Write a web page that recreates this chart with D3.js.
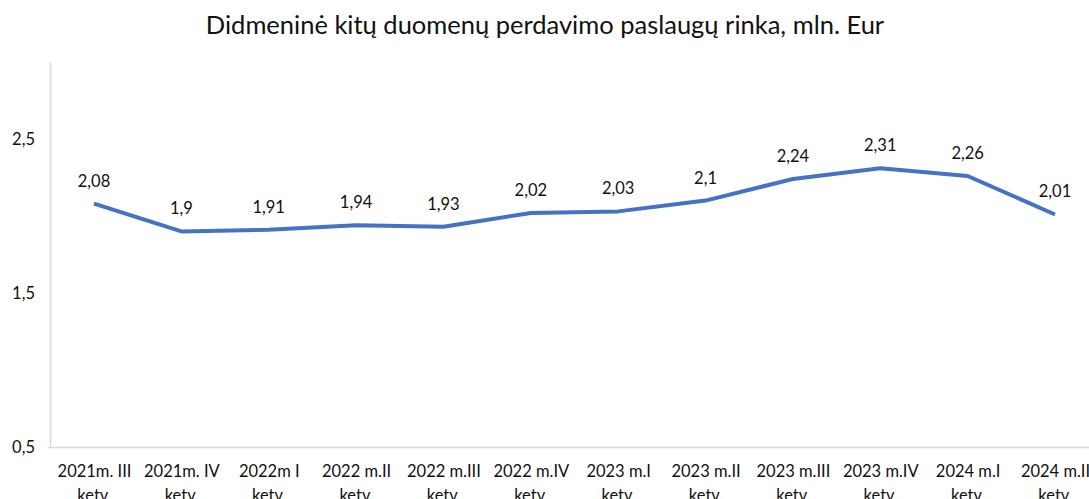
<!DOCTYPE html>
<html>
<head>
<meta charset="utf-8">
<script src="https://cdn.jsdelivr.net/npm/d3@7"></script>
<style>
  body { margin: 0; background: #fff; }
  svg { display: block; font-family: Lato, "Open Sans", sans-serif; }
</style>
</head>
<body>
<div id="chart"></div>
<script>
// duomenys
const categories = [
  "2021m. III ketv.", "2021m. IV ketv.", "2022m I ketv.", "2022 m.II ketv.",
  "2022 m.III ketv.", "2022 m.IV ketv.", "2023 m.I ketv.", "2023 m.II ketv.",
  "2023 m.III ketv.", "2023 m.IV ketv.", "2024 m.I ketv.", "2024 m.II ketv."
];
const values = [2.08, 1.9, 1.91, 1.94, 1.93, 2.02, 2.03, 2.1, 2.24, 2.31, 2.26, 2.01];
const yTicks = [0.5, 1.5, 2.5];
const title = "Didmeninė kitų duomenų perdavimo paslaugų rinka, mln. Eur";

const width = 1089, height = 499;
const margin = { top: 62, right: 34, bottom: 52, left: 50 };

const svg = d3.select("#chart")
  .append("svg")
  .attr("width", width)
  .attr("height", height);

const fmt = (v) => String(v).replace(".", ",");

// skalės
const x = d3.scalePoint()
  .domain(categories)
  .range([94, 1055]);
const y = d3.scaleLinear()
  .domain([0.5, 3])
  .range([height - margin.bottom, margin.top]);

// pavadinimas
svg.append("text")
  .attr("x", 545)
  .attr("y", 34)
  .attr("text-anchor", "middle")
  .attr("font-size", "25.5px")
  .attr("fill", "#111")
  .text(title);

// y ašis
const yAxis = svg.append("g")
  .attr("transform", `translate(${margin.left},0)`)
  .call(d3.axisLeft(y).tickValues(yTicks).tickSize(0).tickPadding(15).tickFormat(fmt));
yAxis.select(".domain").attr("stroke", "#c9d7ef").attr("stroke-width", 1.5);
yAxis.selectAll("text").attr("font-size", "16.5px").attr("fill", "#111").attr("font-family", "Lato, sans-serif");

// x ašis
const xAxis = svg.append("g")
  .attr("transform", `translate(0,${y(0.5)})`)
  .call(d3.axisBottom(x).tickSize(0).tickPadding(18));
xAxis.select(".domain").attr("d", `M${margin.left - 2},0.5H${width}`).attr("stroke", "#d9d9d9").attr("stroke-width", 1.5);
xAxis.selectAll("text")
  .attr("font-size", "16.5px")
  .attr("fill", "#111")
  .attr("font-family", "Lato, sans-serif")
  .each(function (d) {
    const t = d3.select(this);
    const i = d.lastIndexOf(" ");
    const lines = [d.slice(0, i), d.slice(i + 1)];
    t.text(null);
    lines.forEach((l, k) => {
      t.append("tspan").attr("x", 0).attr("dy", k === 0 ? "0.71em" : "1.45em").text(l);
    });
  });

// linija
const line = d3.line()
  .x((d, i) => x(categories[i]))
  .y((d) => y(d));

svg.append("path")
  .datum(values)
  .attr("fill", "none")
  .attr("stroke", "#4472c4")
  .attr("stroke-width", 4)
  .attr("stroke-linejoin", "round")
  .attr("d", line);

// reikšmių etiketės
svg.selectAll(".label")
  .data(values)
  .enter()
  .append("text")
  .attr("class", "label")
  .attr("x", (d, i) => x(categories[i]))
  .attr("y", (d) => y(d) - 17)
  .attr("text-anchor", "middle")
  .attr("font-size", "16.5px")
  .attr("fill", "#111")
  .text(fmt);
</script>
</body>
</html>
